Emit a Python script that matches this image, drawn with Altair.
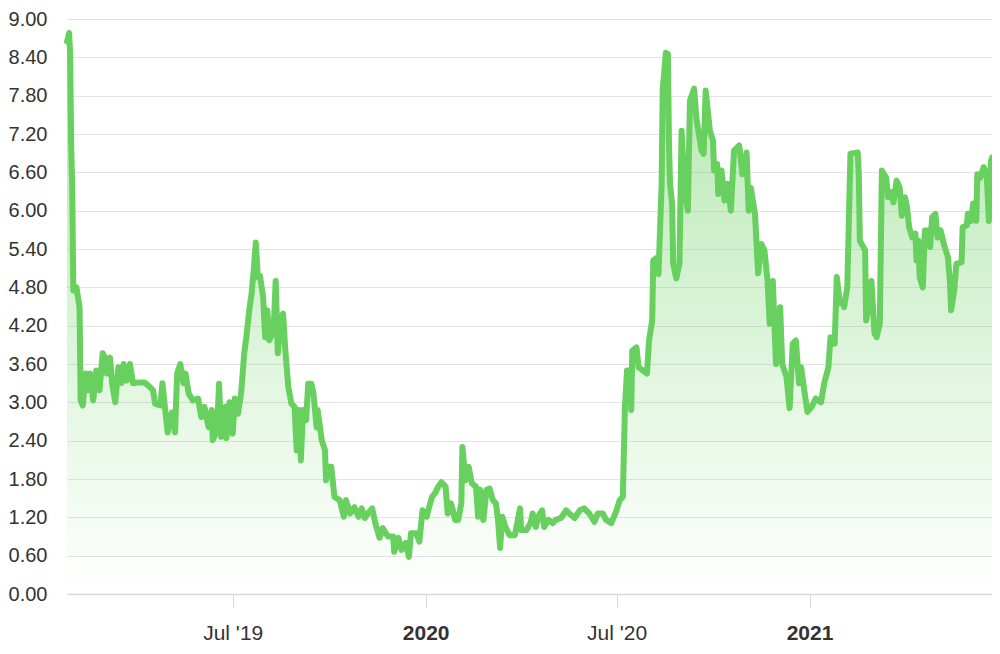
import altair as alt
import pandas as pd

START = "2019-01-24"

# days since START
day = [0, 1, 2, 3, 4, 5, 6, 9, 12, 13, 15, 18, 20, 22, 25, 28, 31, 34, 36, 38,
       41, 43, 46, 49, 52, 54, 57, 60, 63, 68, 74, 77, 82, 84, 89, 91, 93, 96, 100, 103,
       105, 108, 111, 113, 116, 120, 125, 128, 131, 135, 138, 139, 143, 145, 147, 151, 152, 155, 158, 160,
       163, 166, 169, 171, 174, 176, 178, 180, 182, 184, 187, 189, 191, 193, 197, 199, 201, 204, 206, 208,
       211, 214, 217, 219, 221, 223, 225, 228, 230, 233, 235, 238, 239, 243, 246, 247, 249, 252, 255, 260,
       264, 266, 270, 274, 278, 281, 284, 287, 291, 294, 298, 301, 306, 311, 312, 316, 319, 323, 326, 328,
       333, 336, 339, 343, 345, 348, 351, 354, 357, 361, 363, 366, 368, 370, 373, 376, 377, 380, 383, 386,
       390, 392, 394, 397, 400, 403, 406, 409, 411, 413, 415, 418, 422, 427, 432, 433, 438, 442, 444, 447,
       450, 453, 455, 459, 463, 466, 471, 476, 479, 484, 489, 493, 498, 503, 506, 511, 514, 519, 524, 527,
       530, 532, 534, 537, 538, 539, 543, 545, 549, 553, 555, 558, 559, 563, 564, 567, 568, 571, 573, 574,
       575, 577, 578, 581, 584, 586, 589, 592, 594, 598, 600, 605, 607, 609, 613, 616, 617, 620, 621, 624,
       627, 630, 633, 636, 641, 644, 648, 650, 652, 656, 659, 662, 665, 668, 670, 673, 676, 680, 682, 686,
       689, 692, 695, 698, 700, 703, 706, 710, 714, 719, 722, 726, 728, 732, 734, 737, 740, 741, 744, 745,
       747, 754, 755, 756, 761, 762, 765, 767, 770, 772, 775, 777, 781, 783, 786, 788, 791, 794, 796, 799,
       801, 803, 806, 809, 810, 812, 813, 816, 818, 821, 823, 825, 828, 830, 833, 836, 840, 842, 843, 846,
       848, 853, 854, 858, 859, 862, 864, 867, 868, 871, 874, 877, 879, 881, 882]

value = [8.65, 8.70, 8.78, 8.45, 7.00, 6.36, 4.75, 4.80, 4.48, 3.03, 2.95, 3.45, 3.19, 3.45, 3.03, 3.50, 3.19, 3.77, 3.70, 3.45,
         3.70, 3.30, 3.00, 3.55, 3.30, 3.60, 3.34, 3.60, 3.30, 3.31, 3.31, 3.27, 3.19, 2.98, 2.95, 3.30, 2.98, 2.53, 2.84, 2.53,
         3.45, 3.60, 3.30, 3.45, 3.14, 3.03, 3.06, 2.77, 2.93, 2.61, 2.88, 2.41, 2.56, 3.29, 2.46, 2.93, 2.44, 3.00, 2.51, 3.06,
         2.82, 3.14, 3.77, 4.02, 4.47, 4.70, 5.06, 5.50, 4.96, 4.98, 4.65, 4.02, 4.44, 3.97, 4.13, 4.90, 3.77, 4.33, 4.39, 3.86,
         3.24, 2.98, 2.93, 2.25, 2.88, 2.09, 2.88, 2.72, 3.29, 3.29, 3.14, 2.61, 2.88, 2.40, 2.25, 1.78, 1.99, 1.99, 1.52, 1.47,
         1.21, 1.47, 1.26, 1.36, 1.21, 1.34, 1.19, 1.26, 1.34, 1.11, 0.88, 1.03, 0.90, 0.90, 0.66, 0.88, 0.69, 0.80, 0.58, 0.95,
         0.95, 0.82, 1.31, 1.21, 1.34, 1.52, 1.58, 1.68, 1.75, 1.68, 1.26, 1.42, 1.31, 1.16, 1.16, 1.42, 2.30, 1.78, 1.99, 1.73,
         1.68, 1.21, 1.63, 1.16, 1.63, 1.65, 1.47, 1.42, 1.16, 0.72, 1.21, 1.05, 0.92, 0.92, 1.34, 1.00, 1.00, 1.11, 1.26, 1.05,
         1.23, 1.31, 1.05, 1.16, 1.11, 1.16, 1.19, 1.31, 1.26, 1.19, 1.31, 1.34, 1.26, 1.13, 1.26, 1.26, 1.16, 1.11, 1.31, 1.47,
         1.52, 2.93, 3.50, 3.50, 2.88, 3.81, 3.86, 3.55, 3.50, 3.45, 3.97, 4.28, 5.22, 5.27, 5.01, 6.42, 7.88, 8.47, 8.45, 7.05,
         6.42, 6.11, 5.17, 4.94, 5.17, 7.25, 6.31, 6.00, 7.72, 7.91, 7.46, 6.94, 6.89, 7.88, 7.25, 7.10, 6.63, 6.73, 6.26, 6.63,
         6.16, 6.42, 6.00, 6.94, 7.02, 6.57, 6.91, 6.00, 6.36, 5.95, 5.02, 5.48, 5.38, 4.90, 4.23, 4.90, 3.60, 4.49, 3.60, 3.40,
         2.91, 3.92, 3.97, 3.30, 3.55, 3.19, 2.85, 2.93, 3.06, 3.00, 3.30, 3.55, 4.02, 3.92, 4.96, 4.55, 4.55, 4.49, 4.80, 5.48,
         6.89, 6.91, 6.57, 5.53, 5.38, 4.28, 4.55, 4.90, 4.08, 4.02, 4.23, 6.63, 6.52, 6.21, 6.29, 6.13, 6.47, 6.36, 5.92, 6.21,
         6.05, 5.74, 5.58, 5.64, 5.22, 5.53, 4.96, 4.80, 5.69, 5.69, 5.43, 5.90, 5.95, 5.58, 5.69, 5.48, 5.27, 4.86, 4.44, 4.75,
         5.17, 5.19, 5.74, 5.77, 5.95, 5.84, 6.11, 5.84, 6.57, 6.52, 6.68, 6.57, 5.84, 6.78, 6.83]

x_ticks = [(2019, 7), (2020, 1), (2020, 7), (2021, 1)]
y_ticks = [0.0, 0.6, 1.2, 1.8, 2.4, 3.0, 3.6, 4.2, 4.8, 5.4, 6.0, 6.6, 7.2, 7.8, 8.4, 9.0]

LINE = "#68d05e"

dates = (pd.Timestamp(START) + pd.to_timedelta(day, unit="D")).strftime("%Y-%m-%d")
df = pd.DataFrame({"date": list(dates), "value": value})

x_axis = alt.Axis(
    values=[alt.DateTime(year=y, month=m, date=1, utc=True) for y, m in x_ticks],
    labelExpr="utcFormat(datum.value, '%m') == '01' ? utcFormat(datum.value, '%Y') : utcFormat(datum.value, \"%b '%y\")",
    labelFontWeight={"condition": {"test": "utcFormat(datum.value, '%m') == '01'", "value": "bold"}, "value": "normal"},
    labelFont="Liberation Sans",
    labelFontSize=21,
    labelColor="#333333",
    labelPadding=15,
    tickSize=13,
    tickColor="#d8d8d8",
    domainColor="#d8d8d8",
    domainWidth=1.5,
    grid=False,
    title=None,
)

y_axis = alt.Axis(
    values=y_ticks,
    format=".2f",
    labelFont="Liberation Sans",
    labelFontSize=20,
    labelColor="#333333",
    labelPadding=20,
    ticks=False,
    domain=False,
    grid=True,
    gridColor="#e4e4e4",
    gridWidth=1.2,
    title=None,
)

x_enc = alt.X("date:T", axis=x_axis, scale=alt.Scale(type="utc", nice=False))
y_enc = alt.Y("value:Q", axis=y_axis, scale=alt.Scale(domain=[0, 9], nice=False))

area = alt.Chart(df).mark_area(
    color=alt.Gradient(
        gradient="linear",
        stops=[
            alt.GradientStop(color="rgba(104,208,94,0.5)", offset=0),
            alt.GradientStop(color="rgba(104,208,94,0.0)", offset=1),
        ],
        x1=1, x2=1, y1=0, y2=1,
    ),
    interpolate="linear",
).encode(x=x_enc, y=y_enc)

line = alt.Chart(df).mark_line(
    color=LINE, strokeWidth=6, strokeJoin="round", strokeCap="round", interpolate="linear"
).encode(x=x_enc, y=y_enc)

chart = (area + line).properties(
    width=925, height=575,
    autosize=alt.AutoSizeParams(type="none"),
    padding={"left": 59, "top": 11, "right": 0, "bottom": 50},
    background="white",
).configure_view(stroke=None)

chart.save("out.html", embed_options={"renderer": "svg", "actions": False})
